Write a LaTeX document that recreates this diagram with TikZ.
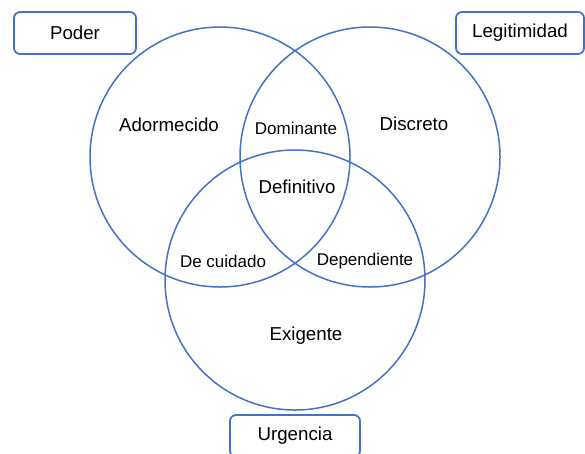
\documentclass[tikz,border=0pt]{standalone}
\usepackage{fontspec}
\setmainfont{Liberation Sans}
\usepackage{xcolor}
\usepackage{tikz}

\definecolor{vennblue}{HTML}{4472C4}
\newcommand{\bigtxt}{\fontsize{18.7}{22}\selectfont}
\newcommand{\smalltxt}{\fontsize{17}{20}\selectfont}

\begin{document}
\begin{tikzpicture}[x=1pt,y=-1pt,
  setbox/.style={draw=vennblue, line width=1.8pt, rounded corners=6pt,
    minimum width=122pt, minimum height=42pt, font=\bigtxt},
  setring/.style={draw=vennblue, line width=1.5pt}]
\clip (0,0) rectangle (585,453);
\useasboundingbox (0,0) rectangle (585,453);
\draw[setring] (220,157) circle (130);
\draw[setring] (370,157) circle (130);
\draw[setring] (295,280) circle (130);
\node[setbox] (poder) at (75,33) {Poder};
\node[setbox, minimum width=128pt] (legit) at (520,33) {Legitimidad};
\node[setbox, minimum width=130pt] (urg) at (295,436) {Urgencia};
\node[font=\bigtxt] (ador) at (169,125) {Adormecido};
\node[font=\smalltxt] (domi) at (296,128) {Dominante};
\node[font=\bigtxt] (disc) at (414,124) {Discreto};
\node[font=\bigtxt] (defi) at (297,187) {Definitivo};
\node[font=\smalltxt] (cuid) at (223,261) {De cuidado};
\node[font=\smalltxt] (depe) at (365,261) {Dependiente};
\node[font=\bigtxt] (exig) at (306,336) {Exigente};
\end{tikzpicture}
\end{document}
